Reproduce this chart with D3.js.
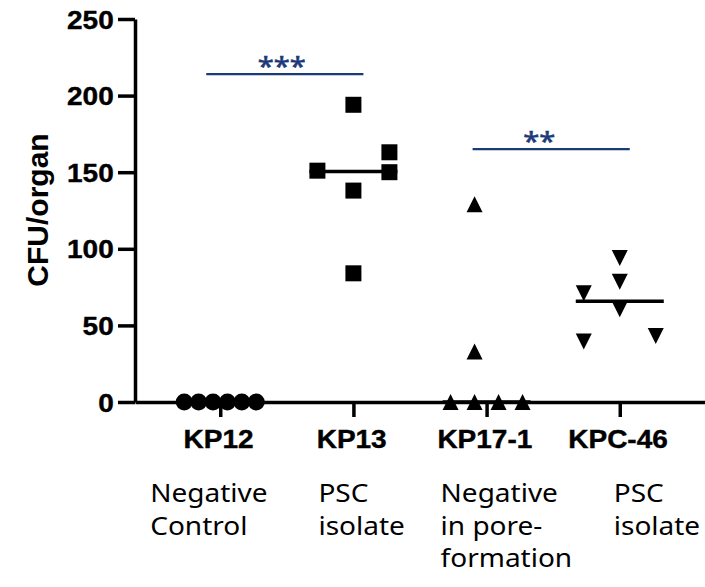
<!DOCTYPE html>
<html>
<head>
<meta charset="utf-8">
<script src="https://cdn.jsdelivr.net/npm/d3@7"></script>
<style>
  body { margin: 0; background: #fff; }
</style>
</head>
<body>
<div id="chart"></div>
<script>
// strains along the x axis and the notes under them
const strains = ["KP12", "KP13", "KP17-1", "KPC-46"];
const notes = [
    ["Negative", "Control"],
    ["PSC", "isolate"],
    ["Negative", "in pore-", "formation"],
    ["PSC", "isolate"]
];
const yTicks = [0, 50, 100, 150, 200, 250];

// CFU/organ per mouse, one array per strain
const kp12 = [0, 0, 0, 0, 0, 0];
const kp13 = [194, 163, 151, 150, 138, 84];
const kp17 = [129, 33, 0, 0, 0, 0];
const kpc46 = [94, 78.5, 71, 60.5, 43, 39.5];

// scatter lane of each point, as Prism spread them
const kp12Lane = [-1.5, -0.9, -0.3, 0.3, 0.9, 1.5];
const kp13Lane = [0, 1.5, -1.5, 1.5, 0, 0];
const kp17Lane = [-0.5, -0.5, -1.5, -0.5, 0.5, 1.5];
const kpc46Lane = [0, 0, -1.5, 0, 1.5, -1.5];

// significance brackets
const sigFrom = ["KP12", "KP17-1"];
const sigTo = ["KP13", "KPC-46"];
const sigLabel = ["***", "**"];
const sigLevel = [214, 165];

const svg = d3.select("#chart")
    .append("svg")
      .attr("width", 705)
      .attr("height", 587);

const STRETCH = 1.12;   // horizontal text in the figure is a bit wide
const navy = "#1b3a78";
const boldFont = "'Liberation Sans', Arial, sans-serif";
const noteFont = "'Noto Sans', 'Open Sans', sans-serif";

const y = d3.scaleLinear().domain([0, 250]).range([402, 19]);
const x = d3.scalePoint().domain(strains).range([135, 705]).padding(0.64);
const laneW = 24;

// y axis
svg.append("g")
    .attr("transform", "translate(135,0)")
    .call(d3.axisLeft(y).tickValues(yTicks).tickSize(17).tickSizeOuter(0))
    .call(g => g.select(".domain").attr("stroke-width", 3.5))
    .call(g => g.selectAll(".tick line").attr("stroke-width", 3.5))
    .call(g => g.selectAll(".tick text")
        .attr("x", -19)
        .attr("dy", "0.36em")
        .attr("transform", `scale(${STRETCH},1)`)
        .attr("font-family", boldFont)
        .attr("font-weight", "bold")
        .attr("font-size", 25)
        .attr("stroke", "#000")
        .attr("stroke-width", 0.4)
        .attr("fill", "#000"));

// x axis
svg.append("g")
    .attr("transform", "translate(0,402)")
    .call(d3.axisBottom(x).tickSize(15).tickSizeOuter(0))
    .call(g => g.select(".domain").attr("stroke-width", 3.5))
    .call(g => g.selectAll(".tick line").attr("stroke-width", 3.5))
    .call(g => g.selectAll(".tick text")
        .attr("x", -2)
        .attr("y", 46)
        .attr("dy", 0)
        .attr("transform", `scale(${STRETCH},1)`)
        .attr("font-family", boldFont)
        .attr("font-weight", "bold")
        .attr("font-size", 25)
        .attr("stroke", "#000")
        .attr("stroke-width", 0.4)
        .attr("fill", "#000"));

// y label
svg.append("text")
    .attr("transform", "translate(48,210) rotate(-90)")
    .attr("text-anchor", "middle")
    .attr("font-family", boldFont)
    .attr("font-weight", "bold")
    .attr("font-size", 30)
    .text("CFU/organ");

// notes under the strain names, placed by hand in the original
const noteDx = [-70, -35, -46, -6];
strains.forEach((s, i) => {
    const g = svg.append("g").attr("transform", `translate(${x(s) + noteDx[i]},0)`);
    g.selectAll("text")
        .data(notes[i])
        .join("text")
        .attr("transform", (d, j) => `translate(0,${502 + j * 32.5}) scale(${STRETCH},1)`)
        .attr("font-family", noteFont)
        .attr("font-size", 25)
        .attr("fill", "#000")
        .text(d => d);
});

// marker shapes
const triUp = {
    draw(ctx, size) {
        const r = Math.sqrt(size) / 2;
        ctx.moveTo(0, -r); ctx.lineTo(r, r); ctx.lineTo(-r, r); ctx.closePath();
    }
};
const triDown = {
    draw(ctx, size) {
        const r = Math.sqrt(size) / 2;
        ctx.moveTo(0, r); ctx.lineTo(r, -r); ctx.lineTo(-r, -r); ctx.closePath();
    }
};

const groups = [
    { name: "KP12", values: kp12, lanes: kp12Lane, shape: d3.symbol(d3.symbolCircle, Math.PI * 8.5 * 8.5) },
    { name: "KP13", values: kp13, lanes: kp13Lane, shape: d3.symbol(d3.symbolSquare, 256) },
    { name: "KP17-1", values: kp17, lanes: kp17Lane, shape: d3.symbol(triUp, 256) },
    { name: "KPC-46", values: kpc46, lanes: kpc46Lane, shape: d3.symbol(triDown, 256) }
];

// medians
svg.selectAll("line.median")
    .data(groups)
    .join("line")
    .attr("class", "median")
    .attr("x1", d => x(d.name) - 44)
    .attr("x2", d => x(d.name) + 44)
    .attr("y1", d => y(d3.median(d.values)))
    .attr("y2", d => y(d3.median(d.values)))
    .attr("stroke", "#000")
    .attr("stroke-width", 3.5);

// points
groups.forEach(grp => {
    svg.append("g")
        .selectAll("path")
        .data(grp.values.map((v, i) => ({ v, lane: grp.lanes[i] })))
        .join("path")
        .attr("transform", d => `translate(${x(grp.name) + d.lane * laneW},${y(d.v)})`)
        .attr("d", grp.shape)
        .attr("fill", "#000");
});

// significance brackets
const starShift = [-3, -12];
sigLabel.forEach((lab, i) => {
    const x1 = x(sigFrom[i]) - 14;
    const x2 = x(sigTo[i]) + 10;
    const yy = y(sigLevel[i]);
    svg.append("line")
        .attr("x1", x1).attr("x2", x2)
        .attr("y1", yy).attr("y2", yy)
        .attr("stroke", navy)
        .attr("stroke-width", 2.2);
    svg.append("text")
        .attr("transform", `translate(${(x1 + x2) / 2 + starShift[i]},${yy + 1}) scale(${STRETCH},1)`)
        .attr("text-anchor", "middle")
        .attr("font-family", noteFont)
        .attr("font-size", 26)
        .attr("fill", navy)
        .attr("stroke", navy)
        .attr("stroke-width", 0.6)
        .text(lab);
});
</script>
</body>
</html>
